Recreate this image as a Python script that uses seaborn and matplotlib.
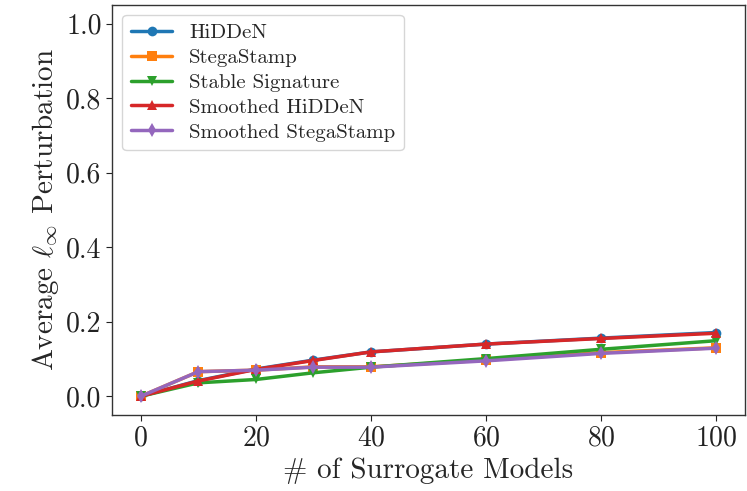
import matplotlib
matplotlib.use("Agg")
import matplotlib.pyplot as plt
import pandas as pd
import seaborn as sns

# data
num_models = [0, 10, 20, 30, 40, 60, 80, 100]
hidden = [0.0, 0.042, 0.073, 0.097, 0.119, 0.140, 0.156, 0.171]
stegastamp = [0.0, 0.066, 0.070, 0.079, 0.079, 0.097, 0.117, 0.130]
stable_signature = [0.0, 0.036, 0.045, 0.063, 0.078, 0.101, 0.126, 0.149]
smoothed_hidden = [0.0, 0.041, 0.072, 0.096, 0.119, 0.140, 0.155, 0.169]
smoothed_stegastamp = [0.0, 0.066, 0.070, 0.078, 0.078, 0.095, 0.115, 0.129]

series = {
    "HiDDeN": hidden,
    "StegaStamp": stegastamp,
    "Stable Signature": stable_signature,
    "Smoothed HiDDeN": smoothed_hidden,
    "Smoothed StegaStamp": smoothed_stegastamp,
}
markers = ["o", "s", "v", "^", "d"]

rows = []
for name, vals in series.items():
    for x, v in zip(num_models, vals):
        rows.append({"models": x, "pert": v, "method": name})
df = pd.DataFrame(rows)

sns.set_style("ticks")
plt.rcParams["font.family"] = "serif"
plt.rcParams["font.serif"] = ["cmr10", "DejaVu Serif"]
plt.rcParams["mathtext.fontset"] = "cm"
plt.rcParams["axes.formatter.use_mathtext"] = True

fig, ax = plt.subplots(figsize=(7.47, 4.91), dpi=100)
palette = sns.color_palette("tab10", 5)
for i, name in enumerate(series):
    sns.lineplot(data=df[df["method"] == name], x="models", y="pert",
                 color=palette[i], marker=markers[i], markersize=7,
                 linewidth=2.5, markeredgewidth=0, label=name, ax=ax)

ax.set_xlim(-5, 105)
ax.set_ylim(-0.05, 1.05)
ax.set_xticks([0, 20, 40, 60, 80, 100])
ax.set_yticks([0.0, 0.2, 0.4, 0.6, 0.8, 1.0])
ax.set_yticklabels(["0.0", "0.2", "0.4", "0.6", "0.8", "1.0"])
ax.tick_params(labelsize=20, colors="#222222", length=4)
ax.set_xlabel("# of Surrogate Models", fontsize=21)
ax.set_ylabel(r"Average $\ell_\infty$ Perturbation", fontsize=21)
for s in ax.spines.values():
    s.set_color("#333333")
    s.set_linewidth(1.0)

leg = ax.legend(loc="upper left", fontsize=15, frameon=True,
                handlelength=2.0, borderpad=0.4, labelspacing=0.3)
leg.get_frame().set_edgecolor("#cccccc")

fig.subplots_adjust(left=0.15, right=0.997, top=0.99, bottom=0.155)
fig.savefig("out.png", dpi=100)
